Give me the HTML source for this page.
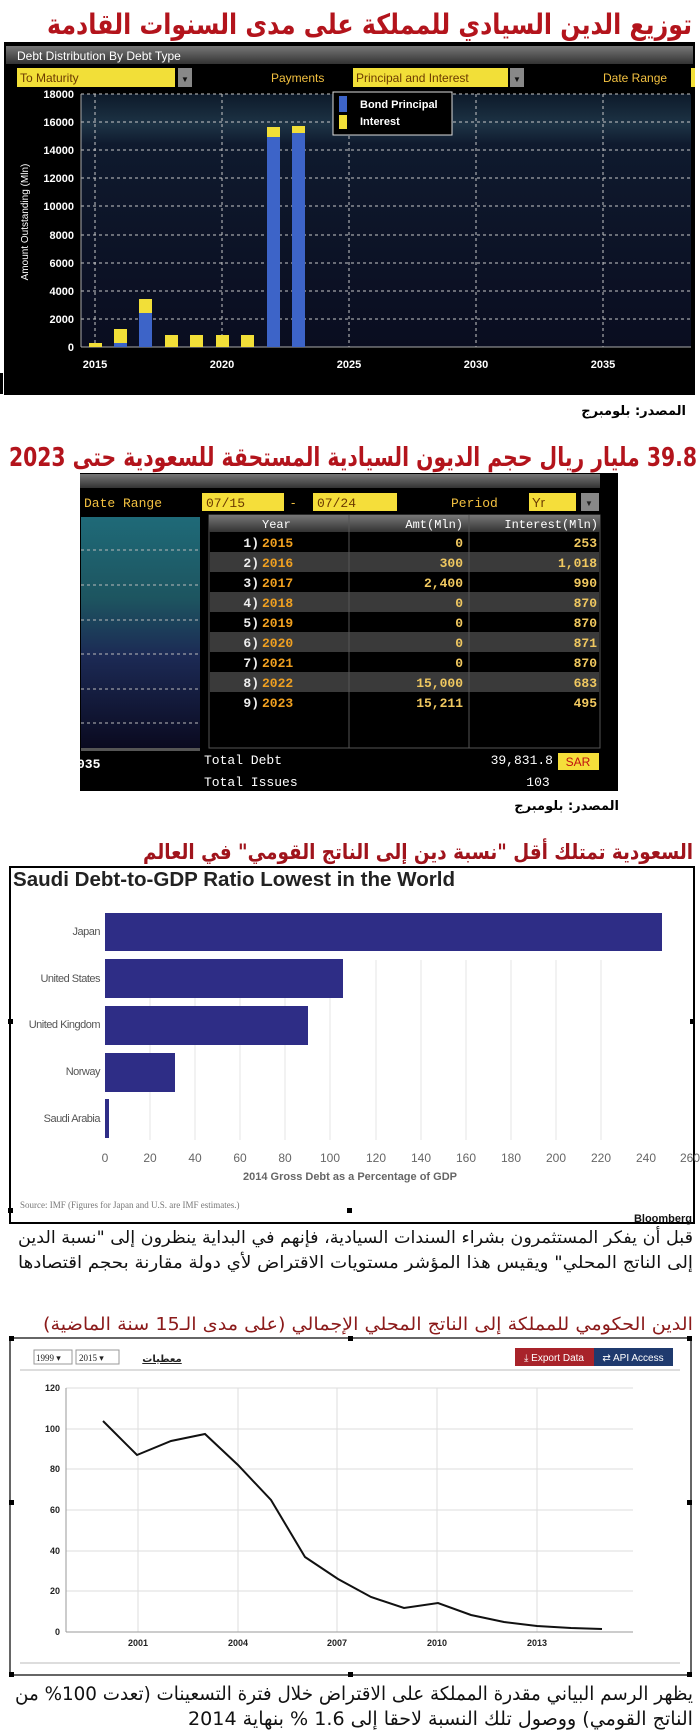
<!DOCTYPE html>
<html><head><meta charset="utf-8"><style>
html,body{margin:0;padding:0;background:#fff;}
svg{display:block;}
</style></head><body>
<svg width="700" height="1732" viewBox="0 0 700 1732" xmlns="http://www.w3.org/2000/svg" font-family="Liberation Sans, DejaVu Sans, sans-serif">
<defs>
<linearGradient id="plotbg" x1="0" y1="0" x2="0" y2="1">
<stop offset="0" stop-color="#0d1a2a"/><stop offset="0.12" stop-color="#1d3345"/><stop offset="0.2" stop-color="#0f1a2e"/><stop offset="1" stop-color="#0a0d20"/>
</linearGradient>
<linearGradient id="teal" x1="0" y1="0" x2="0" y2="1">
<stop offset="0" stop-color="#1f6a78"/><stop offset="0.35" stop-color="#1d5560"/><stop offset="0.6" stop-color="#1c2a55"/><stop offset="1" stop-color="#0a0a20"/>
</linearGradient>
<linearGradient id="gbar" x1="0" y1="0" x2="0" y2="1"><stop offset="0" stop-color="#777"/><stop offset="1" stop-color="#333"/></linearGradient>
</defs>

<!-- ===== Section 1 ===== -->
<text x="692" y="34" direction="rtl" text-anchor="start" font-family="DejaVu Sans, sans-serif" font-weight="bold" font-size="28" fill="#b3141c" textLength="645" lengthAdjust="spacingAndGlyphs">توزيع الدين السيادي للمملكة على مدى السنوات القادمة</text>
<rect x="4" y="42" width="691" height="353" fill="#000"/>
<rect x="6" y="46" width="687" height="18" fill="url(#gbar)"/>
<text x="17" y="60" font-size="12" fill="#fff">Debt Distribution By Debt Type</text>
<rect x="17" y="68" width="158" height="19" fill="#f2df38"/>
<text x="20" y="82" font-size="12" fill="#6b3a00">To Maturity</text>
<rect x="178" y="68" width="14" height="19" fill="#888"/><text x="181" y="82" font-size="8" fill="#111">▼</text>
<text x="271" y="82" font-size="12" fill="#f2c040">Payments</text>
<rect x="353" y="68" width="155" height="19" fill="#f2df38"/>
<text x="356" y="82" font-size="12" fill="#6b3a00">Principal and Interest</text>
<rect x="510" y="68" width="14" height="19" fill="#888"/><text x="513" y="82" font-size="8" fill="#111">▼</text>
<text x="603" y="82" font-size="12" fill="#f2c040">Date Range</text>
<rect x="691" y="68" width="4" height="19" fill="#f2df38"/>
<rect x="81" y="94" width="610" height="253" fill="url(#plotbg)"/>
<g stroke="#c8c8c8" stroke-width="1" stroke-dasharray="3,3">
<line x1="81" x2="691" y1="94" y2="94"/><line x1="81" x2="691" y1="122" y2="122"/><line x1="81" x2="691" y1="150" y2="150"/><line x1="81" x2="691" y1="178" y2="178"/><line x1="81" x2="691" y1="206" y2="206"/><line x1="81" x2="691" y1="235" y2="235"/><line x1="81" x2="691" y1="263" y2="263"/><line x1="81" x2="691" y1="291" y2="291"/><line x1="81" x2="691" y1="319" y2="319"/>
<line x1="95" x2="95" y1="94" y2="347"/><line x1="222" x2="222" y1="94" y2="347"/><line x1="349" x2="349" y1="94" y2="347"/><line x1="476" x2="476" y1="94" y2="347"/><line x1="603" x2="603" y1="94" y2="347"/>
</g>
<line x1="81" x2="691" y1="347" y2="347" stroke="#aaa"/>
<line x1="81" x2="81" y1="94" y2="347" stroke="#aaa"/>
<g font-size="11" fill="#fff" text-anchor="end" font-weight="bold">
<text x="74" y="98">18000</text><text x="74" y="126">16000</text><text x="74" y="154">14000</text><text x="74" y="182">12000</text><text x="74" y="210">10000</text><text x="74" y="239">8000</text><text x="74" y="267">6000</text><text x="74" y="295">4000</text><text x="74" y="323">2000</text><text x="74" y="351">0</text>
</g>
<g font-size="11" fill="#fff" text-anchor="middle" font-weight="bold">
<text x="95" y="368">2015</text><text x="222" y="368">2020</text><text x="349" y="368">2025</text><text x="476" y="368">2030</text><text x="603" y="368">2035</text>
</g>
<text transform="translate(28,222) rotate(-90)" font-size="10" fill="#fff" text-anchor="middle">Amount Outstanding (Mln)</text>
<!-- bars -->
<g>
<rect x="89" y="343" width="13" height="4" fill="#f2df38"/>
<rect x="114" y="343" width="13" height="4" fill="#3d64c8"/><rect x="114" y="329" width="13" height="14" fill="#f2df38"/>
<rect x="139" y="313" width="13" height="34" fill="#3d64c8"/><rect x="139" y="299" width="13" height="14" fill="#f2df38"/>
<rect x="165" y="335" width="13" height="12" fill="#f2df38"/>
<rect x="190" y="335" width="13" height="12" fill="#f2df38"/>
<rect x="216" y="335" width="13" height="12" fill="#f2df38"/>
<rect x="241" y="335" width="13" height="12" fill="#f2df38"/>
<rect x="267" y="136" width="13" height="211" fill="#3d64c8"/><rect x="267" y="127" width="13" height="10" fill="#f2df38"/>
<rect x="292" y="133" width="13" height="214" fill="#3d64c8"/><rect x="292" y="126" width="13" height="7" fill="#f2df38"/>
</g>
<rect x="333" y="92" width="119" height="43" fill="#000" stroke="#ddd" stroke-width="1"/>
<rect x="339" y="96" width="8" height="16" fill="#3d64c8"/><text x="360" y="108" font-size="11" fill="#fff" font-weight="bold">Bond Principal</text>
<rect x="339" y="115" width="8" height="14" fill="#f2df38"/><text x="360" y="125" font-size="11" fill="#fff" font-weight="bold">Interest</text>
<rect x="0" y="373" width="3" height="21" fill="#000"/>
<text x="686" y="415" direction="rtl" text-anchor="start" font-family="DejaVu Sans, sans-serif" font-weight="bold" font-size="13" fill="#000">المصدر: بلومبرج</text>

<!-- ===== Section 2 ===== -->
<text x="697" y="466" direction="rtl" text-anchor="start" font-family="DejaVu Sans, sans-serif" font-weight="bold" font-size="26" fill="#b3141c" textLength="688" lengthAdjust="spacingAndGlyphs">39.8 مليار ريال حجم الديون السيادية المستحقة للسعودية حتى 2023</text>
<rect x="80" y="473" width="538" height="318" fill="#000"/>
<rect x="80" y="474" width="520" height="14" fill="url(#gbar)"/>
<text x="84" y="507" font-size="13" fill="#f2c040" font-family="Liberation Mono, monospace">Date Range</text>
<rect x="202" y="493" width="82" height="18" fill="#f5de3a"/><text x="206" y="507" font-size="13" fill="#6b3a00" font-family="Liberation Mono, monospace">07/15</text>
<text x="291" y="507" font-size="13" fill="#f2c040">-</text>
<rect x="313" y="493" width="84" height="18" fill="#f5de3a"/><text x="317" y="507" font-size="13" fill="#6b3a00" font-family="Liberation Mono, monospace">07/24</text>
<text x="451" y="507" font-size="13" fill="#f2c040" font-family="Liberation Mono, monospace">Period</text>
<rect x="529" y="493" width="47" height="18" fill="#f5de3a"/><text x="532" y="507" font-size="13" fill="#6b3a00">Yr</text>
<rect x="581" y="493" width="18" height="18" fill="#888"/><text x="585" y="506" font-size="8" fill="#222">▼</text>
<rect x="81" y="517" width="119" height="231" fill="url(#teal)"/>
<g stroke="#bbb" stroke-dasharray="3,3"><line x1="81" x2="200" y1="550" y2="550"/><line x1="81" x2="200" y1="585" y2="585"/><line x1="81" x2="200" y1="620" y2="620"/><line x1="81" x2="200" y1="654" y2="654"/><line x1="81" x2="200" y1="689" y2="689"/><line x1="81" x2="200" y1="723" y2="723"/></g>
<rect x="81" y="748" width="119" height="3" fill="#555"/>
<rect x="209" y="515" width="391" height="233" fill="#000" stroke="#555"/>
<rect x="209" y="515" width="391" height="17" fill="url(#gbar)"/>
<g fill="#3a3a3a"><rect x="210" y="552" width="389" height="20"/><rect x="210" y="592" width="389" height="20"/><rect x="210" y="632" width="389" height="20"/><rect x="210" y="672" width="389" height="20"/></g>
<g stroke="#555"><line x1="349" x2="349" y1="515" y2="748"/><line x1="469" x2="469" y1="515" y2="748"/></g>
<g font-family="Liberation Mono, monospace" font-size="12" fill="#fff">
<text x="262" y="528">Year</text><text x="463" y="528" text-anchor="end">Amt(Mln)</text><text x="598" y="528" text-anchor="end">Interest(Mln)</text>
</g>
<g font-family="Liberation Mono, monospace" font-size="13" font-weight="bold">
<g fill="#eee" text-anchor="end"><text x="259" y="547">1)</text><text x="259" y="567">2)</text><text x="259" y="587">3)</text><text x="259" y="607">4)</text><text x="259" y="627">5)</text><text x="259" y="647">6)</text><text x="259" y="667">7)</text><text x="259" y="687">8)</text><text x="259" y="707">9)</text></g>
<g fill="#f0a020"><text x="262" y="547">2015</text><text x="262" y="567">2016</text><text x="262" y="587">2017</text><text x="262" y="607">2018</text><text x="262" y="627">2019</text><text x="262" y="647">2020</text><text x="262" y="667">2021</text><text x="262" y="687">2022</text><text x="262" y="707">2023</text></g>
<g fill="#f0c860" text-anchor="end"><text x="463" y="547">0</text><text x="463" y="567">300</text><text x="463" y="587">2,400</text><text x="463" y="607">0</text><text x="463" y="627">0</text><text x="463" y="647">0</text><text x="463" y="667">0</text><text x="463" y="687">15,000</text><text x="463" y="707">15,211</text></g>
<g fill="#f0c860" text-anchor="end"><text x="597" y="547">253</text><text x="597" y="567">1,018</text><text x="597" y="587">990</text><text x="597" y="607">870</text><text x="597" y="627">870</text><text x="597" y="647">871</text><text x="597" y="667">870</text><text x="597" y="687">683</text><text x="597" y="707">495</text></g>
</g>
<g font-family="Liberation Mono, monospace" font-size="13" fill="#fff">
<text x="77" y="768" font-weight="bold">035</text>
<text x="204" y="764">Total Debt</text><text x="204" y="786">Total Issues</text>
<text x="553" y="764" text-anchor="end">39,831.8</text><text x="538" y="786" text-anchor="middle">103</text>
</g>
<rect x="558" y="753" width="41" height="17" fill="#f5de3a"/><text x="578" y="766" font-size="12" fill="#c01010" text-anchor="middle">SAR</text>
<text x="619" y="810" direction="rtl" text-anchor="start" font-family="DejaVu Sans, sans-serif" font-weight="bold" font-size="13" fill="#000">المصدر: بلومبرج</text>

<!-- ===== Section 3 ===== -->
<text x="693" y="859" direction="rtl" text-anchor="start" font-family="DejaVu Sans, sans-serif" font-weight="bold" font-size="21" fill="#a0141c" textLength="550" lengthAdjust="spacingAndGlyphs">السعودية تمتلك أقل "نسبة دين إلى الناتج القومي" في العالم</text>
<rect x="10" y="867" width="684" height="356" fill="#fff" stroke="#000" stroke-width="2"/>
<text x="13" y="886" font-size="20" font-weight="bold" fill="#222" textLength="442" lengthAdjust="spacingAndGlyphs">Saudi Debt-to-GDP Ratio Lowest in the World</text>
<g stroke="#e6e6e6" stroke-width="1">
<line x1="150" x2="150" y1="960" y2="1140"/><line x1="195" x2="195" y1="960" y2="1140"/><line x1="240" x2="240" y1="960" y2="1140"/><line x1="285" x2="285" y1="960" y2="1140"/><line x1="330" x2="330" y1="960" y2="1140"/><line x1="376" x2="376" y1="960" y2="1140"/><line x1="421" x2="421" y1="960" y2="1140"/><line x1="466" x2="466" y1="960" y2="1140"/><line x1="511" x2="511" y1="960" y2="1140"/><line x1="556" x2="556" y1="960" y2="1140"/><line x1="601" x2="601" y1="960" y2="1140"/>
</g>
<g fill="#2e2d86">
<rect x="105" y="913" width="557" height="38"/><rect x="105" y="959" width="238" height="39"/><rect x="105" y="1006" width="203" height="39"/><rect x="105" y="1053" width="70" height="39"/><rect x="105" y="1099" width="4" height="39"/>
</g>
<g font-size="11" fill="#555" text-anchor="end" letter-spacing="-0.5">
<text x="100" y="935">Japan</text><text x="100" y="982">United States</text><text x="100" y="1028">United Kingdom</text><text x="100" y="1075">Norway</text><text x="100" y="1122">Saudi Arabia</text>
</g>
<g font-size="12" fill="#666" text-anchor="middle">
<text x="105" y="1162">0</text><text x="150" y="1162">20</text><text x="195" y="1162">40</text><text x="240" y="1162">60</text><text x="285" y="1162">80</text><text x="330" y="1162">100</text><text x="376" y="1162">120</text><text x="421" y="1162">140</text><text x="466" y="1162">160</text><text x="511" y="1162">180</text><text x="556" y="1162">200</text><text x="601" y="1162">220</text><text x="646" y="1162">240</text><text x="690" y="1162">260</text>
</g>
<text x="350" y="1180" font-size="11" font-weight="bold" fill="#666" text-anchor="middle">2014 Gross Debt as a Percentage of GDP</text>
<text x="20" y="1208" font-size="9" fill="#777" font-family="Liberation Serif, serif">Source: IMF (Figures for Japan and U.S. are IMF estimates.)</text>
<text x="692" y="1222" font-size="11" font-weight="bold" fill="#111" text-anchor="end">Bloomberg</text>
<rect x="8" y="1208" width="5" height="5" fill="#000"/><rect x="347" y="1208" width="5" height="5" fill="#000"/><rect x="8" y="1120" width="0" height="0"/><rect x="8" y="1019" width="5" height="5" fill="#000"/><rect x="690" y="1019" width="5" height="5" fill="#000"/>

<!-- ===== Section 4 ===== -->
<g font-family="DejaVu Sans, sans-serif" font-size="17" fill="#111" direction="rtl" text-anchor="start">
<text x="693" y="1243" textLength="675" lengthAdjust="spacingAndGlyphs">قبل أن يفكر المستثمرون بشراء السندات السيادية، فإنهم في البداية ينظرون إلى "نسبة الدين</text>
<text x="693" y="1268" textLength="675" lengthAdjust="spacingAndGlyphs">إلى الناتج المحلي" ويقيس هذا المؤشر مستويات الاقتراض لأي دولة مقارنة بحجم اقتصادها</text>
</g>
<text x="693" y="1330" direction="rtl" text-anchor="start" font-family="DejaVu Sans, sans-serif" font-size="18" fill="#8b1a1a" textLength="650" lengthAdjust="spacingAndGlyphs">الدين الحكومي للمملكة إلى الناتج المحلي الإجمالي (على مدى الـ15 سنة الماضية)</text>
<rect x="10" y="1338" width="681" height="337" fill="#fff" stroke="#333" stroke-width="1.5"/>
<g fill="#000"><rect x="9" y="1336" width="5" height="5"/><rect x="348" y="1336" width="5" height="5"/><rect x="687" y="1336" width="5" height="5"/><rect x="9" y="1500" width="5" height="5"/><rect x="687" y="1500" width="5" height="5"/><rect x="9" y="1672" width="5" height="5"/><rect x="348" y="1672" width="5" height="5"/><rect x="687" y="1672" width="5" height="5"/></g>
<rect x="34" y="1350" width="38" height="14" fill="#fff" stroke="#999"/><text x="36" y="1361" font-size="9" fill="#222" font-family="Liberation Serif, serif">1999 ▾</text>
<rect x="76" y="1350" width="43" height="14" fill="#fff" stroke="#999"/><text x="79" y="1361" font-size="9" fill="#222" font-family="Liberation Serif, serif">2015 ▾</text>
<text x="162" y="1362" font-size="10" fill="#222" font-family="DejaVu Sans, sans-serif" font-weight="bold" text-anchor="middle" text-decoration="underline">معطيات</text>
<rect x="515" y="1348" width="79" height="18" fill="#a8232a"/><text x="554" y="1361" font-size="10" fill="#fff" text-anchor="middle">⤓ Export Data</text>
<rect x="594" y="1348" width="79" height="18" fill="#1f3a6e"/><text x="633" y="1361" font-size="10" fill="#fff" text-anchor="middle">⇄ API Access</text>
<line x1="20" x2="680" y1="1370" y2="1370" stroke="#ddd" stroke-width="2"/>
<g stroke="#ddd" stroke-width="1">
<line x1="66" x2="633" y1="1388" y2="1388"/><line x1="66" x2="633" y1="1429" y2="1429"/><line x1="66" x2="633" y1="1469" y2="1469"/><line x1="66" x2="633" y1="1510" y2="1510"/><line x1="66" x2="633" y1="1551" y2="1551"/><line x1="66" x2="633" y1="1591" y2="1591"/>
<line x1="138" x2="138" y1="1388" y2="1632"/><line x1="238" x2="238" y1="1388" y2="1632"/><line x1="337" x2="337" y1="1388" y2="1632"/><line x1="437" x2="437" y1="1388" y2="1632"/><line x1="537" x2="537" y1="1388" y2="1632"/>
</g>
<line x1="66" x2="633" y1="1632" y2="1632" stroke="#999"/>
<line x1="66" x2="66" y1="1388" y2="1632" stroke="#999"/>
<g font-size="9" fill="#222" font-weight="bold" text-anchor="end">
<text x="60" y="1391">120</text><text x="60" y="1432">100</text><text x="60" y="1472">80</text><text x="60" y="1513">60</text><text x="60" y="1554">40</text><text x="60" y="1594">20</text><text x="60" y="1635">0</text>
</g>
<g font-size="9" fill="#222" font-weight="bold" text-anchor="middle">
<text x="138" y="1646">2001</text><text x="238" y="1646">2004</text><text x="337" y="1646">2007</text><text x="437" y="1646">2010</text><text x="537" y="1646">2013</text>
</g>
<polyline fill="none" stroke="#111" stroke-width="2" points="103,1421 137,1455 171,1441 205,1434 238,1465 271,1500 305,1557 338,1579 371,1597 404,1608 438,1603 471,1615 504,1622 537,1626 571,1628 602,1629"/>
<line x1="20" x2="680" y1="1663" y2="1663" stroke="#ddd" stroke-width="2"/>
<g font-family="DejaVu Sans, sans-serif" font-size="19" fill="#111" direction="rtl" text-anchor="start">
<text x="693" y="1700" textLength="678" lengthAdjust="spacingAndGlyphs">يظهر الرسم البياني مقدرة المملكة على الاقتراض خلال فترة التسعينات (تعدت 100% من</text>
<text x="693" y="1725" textLength="505" lengthAdjust="spacingAndGlyphs">الناتج القومي) ووصول تلك النسبة لاحقا إلى 1.6 % بنهاية 2014</text>
</g>
</svg>
</body></html>
